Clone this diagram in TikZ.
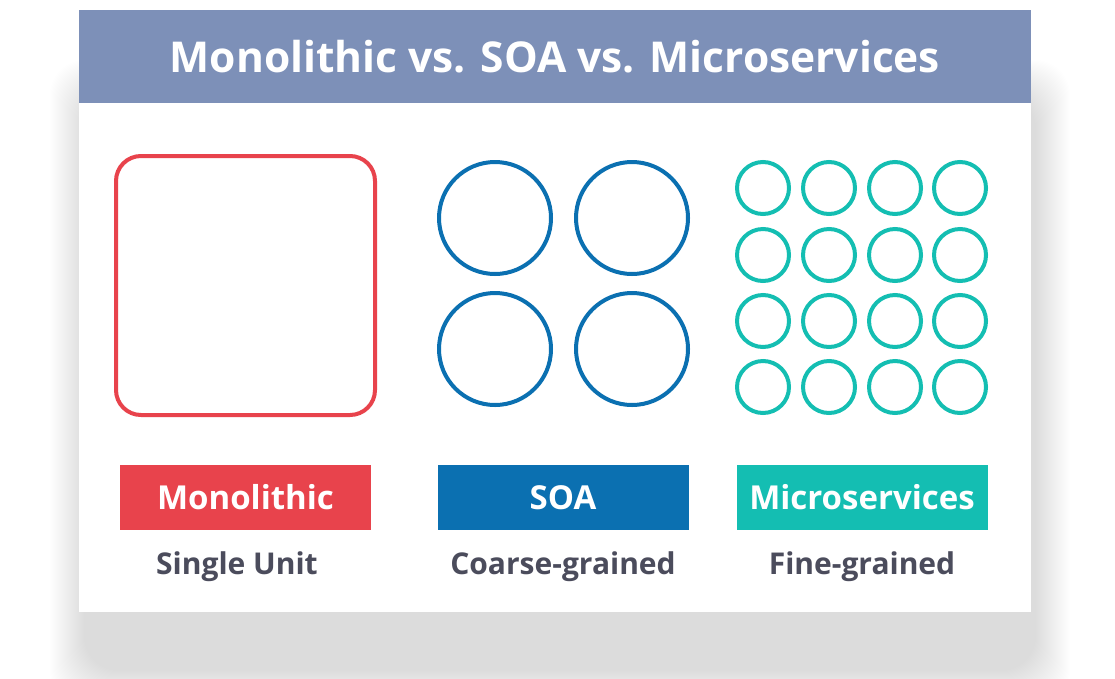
\documentclass[tikz,border=0pt]{standalone}
\usepackage{fontspec}
\setmainfont{Open Sans}
\definecolor{barblue}{HTML}{7D90B8}
\definecolor{monored}{HTML}{E8434C}
\definecolor{soablue}{HTML}{0B70B1}
\definecolor{microteal}{HTML}{14BEB2}
\definecolor{subgrey}{HTML}{4B4C5C}

\begin{document}
\begin{tikzpicture}[x=1pt,y=-1pt,
  tagbox/.style={minimum width=251pt,minimum height=65pt,inner sep=0pt,text=white,font=\fontsize{33}{36}\selectfont\bfseries},
  subtext/.style={text=subgrey,font=\fontsize{30}{34}\selectfont\bfseries},
  ring/.style={circle,draw,inner sep=0pt}]

\useasboundingbox (0,0) rectangle (1115,678);
\fill[white] (0,0) rectangle (1115,678);

% soft shadow under the card
\foreach \i in {0,...,34}
  \fill[black,opacity=0.0055,rounded corners=35pt] (50+\i,60+\i) rectangle (1070-\i,705-\i);

\node (card) at (555,311) [fill=white,minimum width=952pt,minimum height=602pt,inner sep=0pt] {};
\node (title) at (555,56.5) [fill=barblue,minimum width=952pt,minimum height=93pt,inner sep=0pt,text=white,
  font=\fontsize{42.5}{46}\selectfont\bfseries] {Monolithic vs. SOA vs. Microservices};

\node (mono) at (245.5,285.5) [draw=monored,line width=4pt,rounded corners=25pt,minimum width=259pt,minimum height=259pt] {};

\node (S1) at (495,218) [ring,draw=soablue,line width=4pt,minimum size=112pt] {};
\node (S2) at (632,218) [ring,draw=soablue,line width=4pt,minimum size=112pt] {};
\node (S3) at (495,349) [ring,draw=soablue,line width=4pt,minimum size=112pt] {};
\node (S4) at (632,349) [ring,draw=soablue,line width=4pt,minimum size=112pt] {};

\foreach \r/\y in {1/188,2/255,3/321,4/387}
  \foreach \c/\x in {1/763,2/829,3/895,4/960}
    \node (F\r\c) at (\x,\y) [ring,draw=microteal,line width=4pt,minimum size=52pt] {};

\node (monotag) at (245.5,497.5) [tagbox,fill=monored] {Monolithic};
\node (soatag) at (563,497.5) [tagbox,fill=soablue] {SOA};
\node (microtag) at (862,497.5) [tagbox,fill=microteal] {Microservices};

\node (monosub) at (237,567) [subtext] {Single Unit};
\node (soasub) at (563,567) [subtext] {Coarse-grained};
\node (microsub) at (862,567) [subtext] {Fine-grained};
\end{tikzpicture}
\end{document}
